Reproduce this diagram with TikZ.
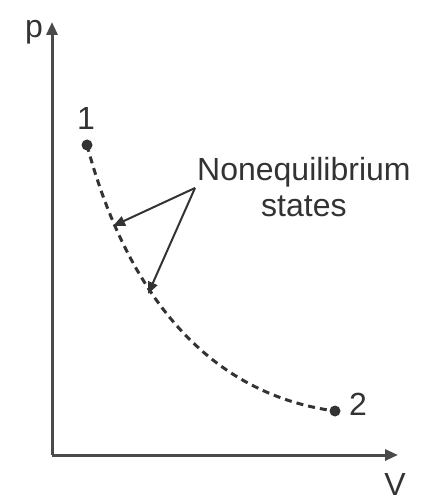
\documentclass[tikz,border=0pt]{standalone}
\usepackage{fontspec}
\setmainfont{Liberation Sans}
\usetikzlibrary{arrows.meta}
\definecolor{ink}{HTML}{333333}
\definecolor{axisc}{HTML}{4A4A4A}
\begin{document}
\begin{tikzpicture}[x=1pt,y=-1pt,
  axisline/.style={draw=axisc,line width=3pt,-{Triangle[length=13pt,width=11pt]}},
  pointer/.style={draw=ink,line width=2pt,-{Triangle[length=12pt,width=10pt]}},
  statedot/.style={circle,fill=ink,inner sep=0pt,minimum size=11pt},
  lbl/.style={text=ink,font=\fontsize{32}{36}\selectfont,inner sep=0pt}]
\useasboundingbox (0,0) rectangle (421,502);
% axes
\coordinate (O) at (52,455);
\coordinate (ptop) at (52,22);
\coordinate (vend) at (398,455);
\draw[axisline] (O) -- (ptop);
\draw[axisline] (O) -- (vend);
\node[lbl,anchor=base] (plabel) at (34,38) {p};
\node[lbl,anchor=base] (vlabel) at (395,495) {V};
% states
\node[statedot] (s1) at (87,145) {};
\node[statedot] (s2) at (335,411) {};
\node[lbl,anchor=base] (l1) at (86,130) {1};
\node[lbl,anchor=base] (l2) at (358,415) {2};
% process path
\draw[ink,line width=3pt,dash pattern=on 7pt off 5pt]
  (s1.center) .. controls (115,250) and (180,390) .. (s2.center);
% label
\node[lbl,align=center,anchor=west] (ne) at (197,187) {Nonequilibrium\\states};
\coordinate (src) at (195,188);
\coordinate (a1) at (113,226);
\coordinate (a2) at (148,294);
\draw[pointer] (src) -- (a1);
\draw[pointer] (src) -- (a2);
\end{tikzpicture}
\end{document}
